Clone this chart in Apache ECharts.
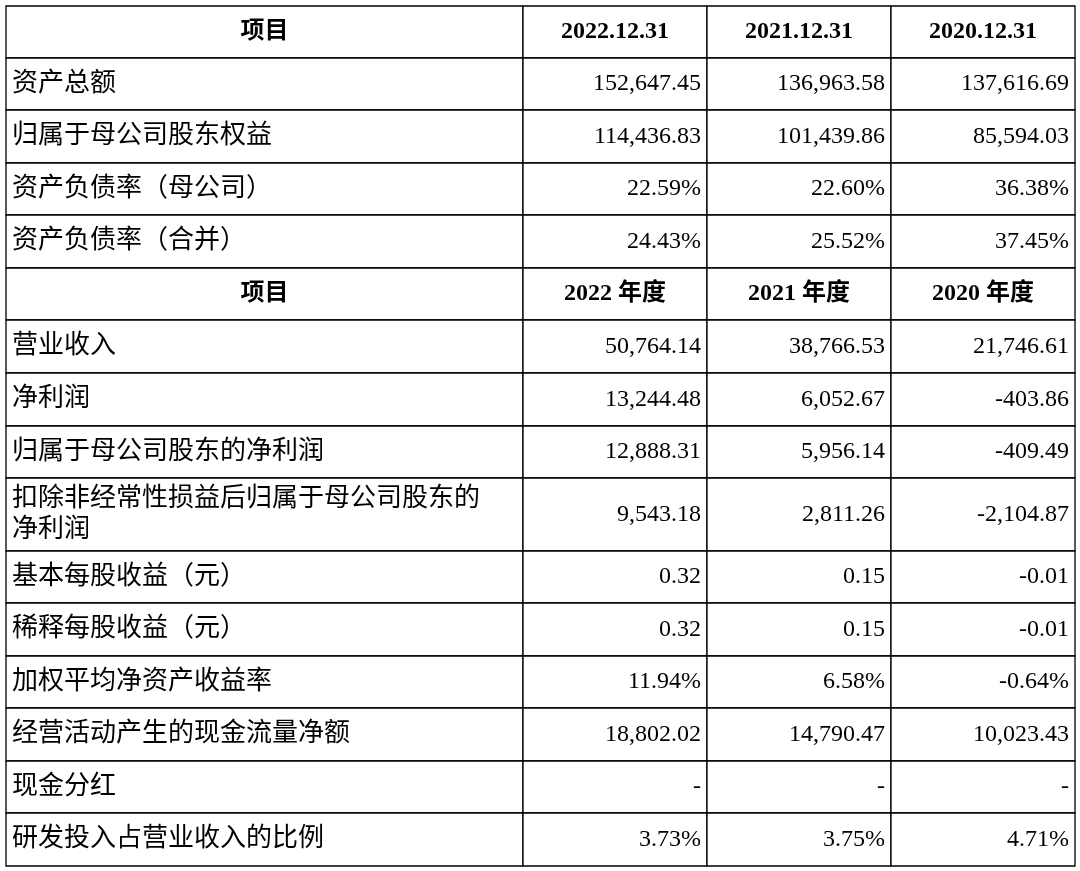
<!DOCTYPE html>
<html><head><meta charset="utf-8">
<script src="https://cdn.jsdelivr.net/npm/echarts@6/dist/echarts.min.js"></script>
<style>html,body{margin:0;background:#fff}#c{width:1080px;height:871px}</style>
</head><body><div id="c"></div>
<script>
const header1 = ['项目','2022.12.31','2021.12.31','2020.12.31'];
const header2 = ['项目','2022 年度','2021 年度','2020 年度'];
const items1 = ['资产总额','归属于母公司股东权益','资产负债率（母公司）','资产负债率（合并）'];
const col2022a = ['152,647.45','114,436.83','22.59%','24.43%'];
const col2021a = ['136,963.58','101,439.86','22.60%','25.52%'];
const col2020a = ['137,616.69','85,594.03','36.38%','37.45%'];
const items2 = ['营业收入','净利润','归属于母公司股东的净利润','扣除非经常性损益后归属于母公司股东的\n净利润','基本每股收益（元）','稀释每股收益（元）','加权平均净资产收益率','经营活动产生的现金流量净额','现金分红','研发投入占营业收入的比例'];
const col2022b = ['50,764.14','13,244.48','12,888.31','9,543.18','0.32','0.32','11.94%','18,802.02','-','3.73%'];
const col2021b = ['38,766.53','6,052.67','5,956.14','2,811.26','0.15','0.15','6.58%','14,790.47','-','3.75%'];
const col2020b = ['21,746.61','-403.86','-409.49','-2,104.87','-0.01','-0.01','-0.64%','10,023.43','-','4.71%'];

const rows = [];
rows.push({h:true, cells:header1});
items1.forEach((t,i)=>rows.push({cells:[t,col2022a[i],col2021a[i],col2020a[i]]}));
rows.push({h:true, cells:header2});
items2.forEach((t,i)=>rows.push({cells:[t,col2022b[i],col2021b[i],col2020b[i]]}));

const colX = [6,523,707,891,1075];
const rowY = [6,58,110,163,215,268,320,373,426,478,551,603,656,708,761,813,866];
const data = [];
rows.forEach((r,ri)=>r.cells.forEach((c,ci)=>data.push([ci,ri,c,r.h?1:0])));

const serif = '"Liberation Serif","Noto Sans CJK SC",serif';
const chart = echarts.init(document.getElementById('c'));
chart.setOption({
  animation:false,
  grid:{left:0,right:0,top:0,bottom:0},
  xAxis:{type:'value',min:0,max:1080,show:false},
  yAxis:{type:'value',min:0,max:871,inverse:true,show:false},
  series:[{
    type:'custom',
    data:data,
    renderItem:function(params,api){
      const ci=api.value(0), ri=api.value(1);
      const d=data[params.dataIndex];
      const txt=d[2], hd=d[3]===1;
      const p0=api.coord([colX[ci],rowY[ri]]), p1=api.coord([colX[ci+1],rowY[ri+1]]);
      let x, align, size=24;
      if(hd){x=(p0[0]+p1[0])/2;align='center';}
      else if(ci===0){x=p0[0]+6;align='left';size=26;}
      else {x=p1[0]-6;align='right';}
      return {type:'group',children:[
        {type:'rect',shape:{x:p0[0],y:p0[1],width:p1[0]-p0[0],height:p1[1]-p0[1]},
         style:{fill:'#fff',stroke:'#000',lineWidth:1.3}},
        {type:'text',style:{x:x,y:(p0[1]+p1[1])/2,text:txt,textAlign:align,textVerticalAlign:'middle',
          font:(hd?'bold ':'')+size+'px '+serif,fill:'#000',lineHeight:31}}
      ]};
    }
  }]
});
</script></body></html>
